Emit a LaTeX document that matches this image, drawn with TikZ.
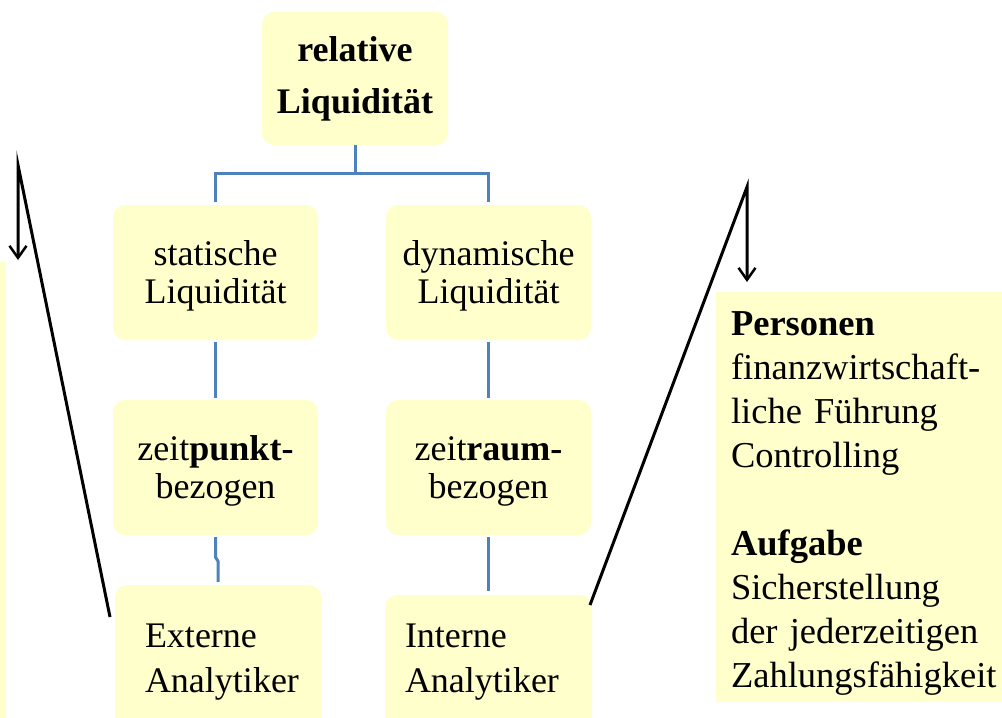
\documentclass[tikz,border=0pt]{standalone}
\usepackage{fontspec}
\setmainfont{Liberation Serif}
\usetikzlibrary{arrows.meta}
\definecolor{boxyellow}{HTML}{FFFFCC}
\definecolor{connblue}{HTML}{4F81BD}
\begin{document}
\begin{tikzpicture}[x=1pt,y=-1pt,
  box/.style={fill=boxyellow, rounded corners=12pt, inner sep=0pt, align=center,
              font=\fontsize{36}{38}\selectfont},
  midbox/.style={box, minimum width=205pt, minimum height=135pt},
  conn/.style={draw=connblue, line width=3pt},
  pointer/.style={draw=black, line width=3pt, line join=miter},
  barb/.style={-{Straight Barb[length=12pt,width=17pt,line width=2.5pt]}}]
\useasboundingbox (0,0) rectangle (1002,718);
\clip (0,0) rectangle (1002,718);

% partial panel on the left edge
\fill[boxyellow] (0,262) rectangle (6,718);

% boxes
\node[box, minimum width=186pt, minimum height=133pt,
      font=\bfseries\fontsize{36}{52}\selectfont] (rel) at (355,78.5) {relative\\Liquidität};
\node[midbox] (stat) at (215.5,272.5) {\rule{0pt}{32pt}statische\\Liquidität};
\node[midbox] (dyn)  at (488.5,272.5) {\rule{0pt}{32pt}dynamische\\Liquidität};
\node[midbox] (zp)   at (215.5,467.5) {\rule{0pt}{32pt}zeit\textbf{punkt-}\\bezogen};
\node[midbox] (zr)   at (488.5,467.5) {\rule{0pt}{32pt}zeit\textbf{raum-}\\bezogen};
\node[box, minimum height=154pt, text width=146pt, inner xsep=30pt, align=left,
      font=\fontsize{36}{45}\selectfont] (ext) at (218,662) {Externe\\Analytiker};
\node[box, minimum height=134pt, text width=167pt, inner xsep=20pt, align=left,
      font=\fontsize{36}{45}\selectfont] (int) at (488.5,662) {Interne\\Analytiker};
\node[box, rounded corners=0pt, minimum height=410pt, text width=271pt, inner xsep=15pt,
      align=left, font=\fontsize{36.5}{44}\selectfont] (info) at (866.5,497)
  {\rule{0pt}{36pt}\textbf{Personen}\\finanzwirtschaft-\\liche Führung\\Controlling\\[44pt]%
   \textbf{Aufgabe}\\Sicherstellung\\der jederzeitigen\\Zahlungsfähigkeit};

% tree connectors
\draw[conn, shorten >=3pt] (rel.south) -- ++(0,28) -| (stat.north);
\draw[conn, shorten >=3pt] (rel.south) -- ++(0,28) -| (dyn.north);
\draw[conn, shorten <=2pt, shorten >=2pt] (stat) -- (zp);
\draw[conn, shorten <=2pt, shorten >=2pt] (dyn) -- (zr);
\draw[conn] (zp.south) ++(0,2) -- ++(0,20) -- ++(2.5,4) -- ([yshift=3pt]ext.north);
\draw[conn, shorten <=2pt, shorten >=4pt] (zr) -- (int);

% pointers
\coordinate (lapex) at (18,165);
\coordinate (ltip)  at (18,260);
\coordinate (lfoot) at (110,617);
\coordinate (rapex) at (747,187);
\coordinate (rtip)  at (747,282);
\coordinate (rfoot) at (590,605);
\draw[pointer, barb] (lfoot) -- (lapex) -- (ltip);
\draw[pointer, barb] (rfoot) -- (rapex) -- (rtip);
\end{tikzpicture}
\end{document}
